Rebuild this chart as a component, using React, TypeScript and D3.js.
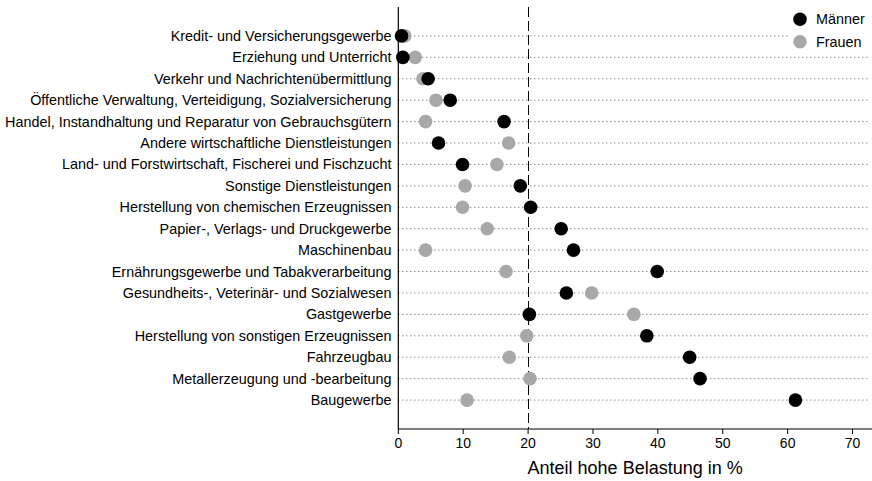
import React from "react";
import * as d3 from "d3";

const categories = [
  "Kredit- und Versicherungsgewerbe",
  "Erziehung und Unterricht",
  "Verkehr und Nachrichtenübermittlung",
  "Öffentliche Verwaltung, Verteidigung, Sozialversicherung",
  "Handel, Instandhaltung und Reparatur von Gebrauchsgütern",
  "Andere wirtschaftliche Dienstleistungen",
  "Land- und Forstwirtschaft, Fischerei und Fischzucht",
  "Sonstige Dienstleistungen",
  "Herstellung von chemischen Erzeugnissen",
  "Papier-, Verlags- und Druckgewerbe",
  "Maschinenbau",
  "Ernährungsgewerbe und Tabakverarbeitung",
  "Gesundheits-, Veterinär- und Sozialwesen",
  "Gastgewerbe",
  "Herstellung von sonstigen Erzeugnissen",
  "Fahrzeugbau",
  "Metallerzeugung und -bearbeitung",
  "Baugewerbe",
];

const maenner = [0.5, 0.7, 4.6, 8.0, 16.3, 6.2, 9.9, 18.8, 20.4, 25.1, 27.0, 39.9, 25.9, 20.2, 38.3, 44.9, 46.5, 61.2];
const frauen = [1.0, 2.6, 3.8, 5.8, 4.2, 17.0, 15.2, 10.3, 9.9, 13.7, 4.2, 16.6, 29.8, 36.3, 19.8, 17.1, 20.3, 10.6];

const xTicks = [0, 10, 20, 30, 40, 50, 60, 70];
const refLine = 20;
const legendItems = ["Männer", "Frauen"];

const W = 872;
const H = 481;
const left = 398.3;
const right = 872;
const top = 7;
const bottom = 429;
const BLACK = "#000000";
const GRAY = "#a8a8a8";
const FONT = "'Liberation Sans', Arial, sans-serif";

export default function App() {
  const x = d3.scaleLinear().domain([0, 73]).range([left, right]);
  const y = d3.scalePoint<string>().domain(categories).range([top, bottom]).padding(1.35);
  const r = 6.8;
  const colors = [BLACK, GRAY];

  return (
    <svg width={W} height={H} style={{ position: "absolute", left: 0, top: 0 }} fontFamily={FONT}>
      <rect width={W} height={H} fill="#fff" />
      {categories.map((c) => (
        <g key={c}>
          <line x1={left} x2={868} y1={y(c)} y2={y(c)} stroke="#555" strokeWidth={1} strokeDasharray="1,3" />
          <text x={391.5} y={y(c)} dy="0.35em" textAnchor="end" fontSize={14.4} fill="#000">
            {c}
          </text>
        </g>
      ))}
      <line
        x1={x(refLine)}
        x2={x(refLine)}
        y1={top}
        y2={bottom}
        stroke="#000"
        strokeWidth={1}
        strokeDasharray="10,4"
        shapeRendering="crispEdges"
      />
      {/* legend */}
      <rect x={789} y={5} width={83} height={47} fill="#fff" />
      {legendItems.map((l, i) => (
        <g key={l}>
          <circle cx={800} cy={19.3 + i * 22.4} r={r} fill={colors[i]} />
          <text x={816} y={19.3 + i * 22.4} dy="0.35em" fontSize={14.4} fill="#000">
            {l}
          </text>
        </g>
      ))}
      {categories.map((c, i) => (
        <circle key={"f" + c} cx={x(frauen[i])} cy={y(c)} r={r} fill={GRAY} />
      ))}
      {categories.map((c, i) => (
        <circle key={"m" + c} cx={x(maenner[i])} cy={y(c)} r={r} fill={BLACK} />
      ))}
      <line x1={left} x2={left} y1={top} y2={bottom} stroke="#000" strokeWidth={1.2} />
      <line x1={left} x2={right} y1={bottom} y2={bottom} stroke="#000" strokeWidth={1.2} />
      {xTicks.map((t) => (
        <g key={t}>
          <line x1={x(t)} x2={x(t)} y1={bottom} y2={bottom + 5} stroke="#000" strokeWidth={1} />
          <text x={x(t)} y={bottom + 9} dy="0.71em" textAnchor="middle" fontSize={14} fill="#000">
            {t}
          </text>
        </g>
      ))}
      <text x={(left + right) / 2} y={468} dy="0.35em" textAnchor="middle" fontSize={18} fill="#000">
        Anteil hohe Belastung in %
      </text>
    </svg>
  );
}
